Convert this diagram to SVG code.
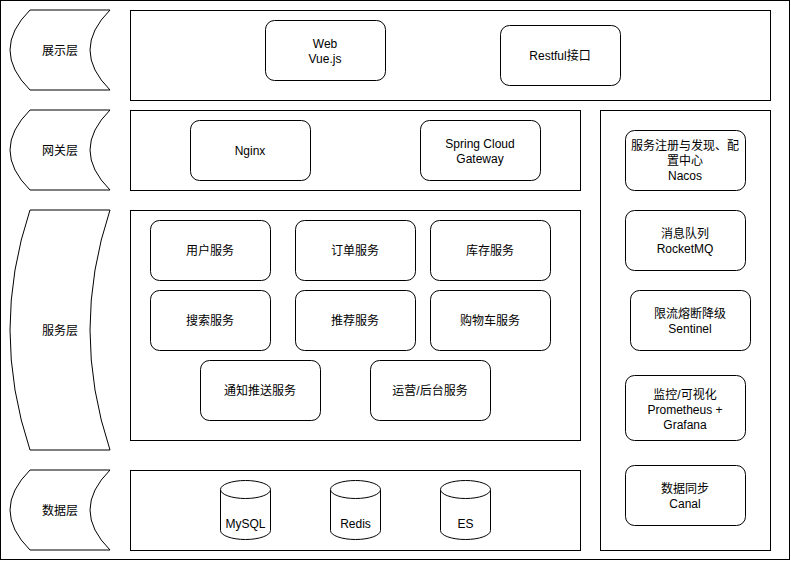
<svg xmlns="http://www.w3.org/2000/svg" width="791" height="561" viewBox="0 0 791 561">
<style>
.s{fill:#fff;stroke:#000;stroke-width:1}
.t{font-family:"Liberation Sans","Noto Sans CJK SC",sans-serif;font-size:12px;fill:#000;text-anchor:middle;dominant-baseline:central}
</style>
<rect x="0" y="0" width="791" height="561" fill="#fff"/>
<rect class="s" x="0.5" y="0.5" width="789" height="559"/>
<g id="layer-labels">
<g id="lbl-present"><path class="s" d="M30,10 L110,10 Q70,50 110,90 L30,90 Q-10,50 30,10 Z"/><text class="t" x="60" y="51">展示层</text></g>
<g id="lbl-gateway"><path class="s" d="M30,110 L110,110 Q70,150 110,190 L30,190 Q-10,150 30,110 Z"/><text class="t" x="60" y="151">网关层</text></g>
<g id="lbl-service"><path class="s" d="M30,210 L110,210 Q70,330 110,450 L30,450 Q-10,330 30,210 Z"/><text class="t" x="60" y="331">服务层</text></g>
<g id="lbl-data"><path class="s" d="M30,470 L110,470 Q70,510 110,550 L30,550 Q-10,510 30,470 Z"/><text class="t" x="60" y="511">数据层</text></g>
</g>
<g id="containers">
<rect id="c-present" class="s" x="130.5" y="10.5" width="640" height="90"/>
<rect id="c-gateway" class="s" x="130.5" y="110.5" width="450" height="80"/>
<rect id="c-service" class="s" x="130.5" y="210.5" width="450" height="230"/>
<rect id="c-data" class="s" x="130.5" y="470.5" width="450" height="80"/>
<rect id="c-infra" class="s" x="600.5" y="110.5" width="170" height="440"/>
</g>
<g id="web"><rect class="s" x="265.5" y="20.5" width="120" height="60" rx="9"/><text class="t" x="325" y="44">Web</text><text class="t" x="325" y="59">Vue.js</text></g>
<g id="restful"><rect class="s" x="500.5" y="25.5" width="120" height="60" rx="9"/><text class="t" x="560" y="56">Restful接口</text></g>
<g id="nginx"><rect class="s" x="190.5" y="120.5" width="120" height="60" rx="9"/><text class="t" x="250" y="151">Nginx</text></g>
<g id="scg"><rect class="s" x="420.5" y="120.5" width="120" height="60" rx="9"/><text class="t" x="480" y="144">Spring Cloud</text><text class="t" x="480" y="159">Gateway</text></g>
<g id="user"><rect class="s" x="150.5" y="220.5" width="120" height="60" rx="9"/><text class="t" x="210" y="251">用户服务</text></g>
<g id="order"><rect class="s" x="295.5" y="220.5" width="120" height="60" rx="9"/><text class="t" x="355" y="251">订单服务</text></g>
<g id="stock"><rect class="s" x="430.5" y="220.5" width="120" height="60" rx="9"/><text class="t" x="490" y="251">库存服务</text></g>
<g id="search"><rect class="s" x="150.5" y="290.5" width="120" height="60" rx="9"/><text class="t" x="210" y="321">搜索服务</text></g>
<g id="recommend"><rect class="s" x="295.5" y="290.5" width="120" height="60" rx="9"/><text class="t" x="355" y="321">推荐服务</text></g>
<g id="cart"><rect class="s" x="430.5" y="290.5" width="120" height="60" rx="9"/><text class="t" x="490" y="321">购物车服务</text></g>
<g id="notify"><rect class="s" x="200.5" y="360.5" width="120" height="60" rx="9"/><text class="t" x="260" y="391">通知推送服务</text></g>
<g id="ops"><rect class="s" x="370.5" y="360.5" width="120" height="60" rx="9"/><text class="t" x="430" y="391">运营/后台服务</text></g>
<g id="mysql"><path class="s" d="M220.5,489.5 A25,9 0 0 1 270.5,489.5 L270.5,530.5 A25,9 0 0 1 220.5,530.5 Z"/><path class="s" fill="none" d="M220.5,489.5 A25,9 0 0 0 270.5,489.5"/><text class="t" x="245.5" y="524">MySQL</text></g>
<g id="redis"><path class="s" d="M330.5,489.5 A25,9 0 0 1 380.5,489.5 L380.5,530.5 A25,9 0 0 1 330.5,530.5 Z"/><path class="s" fill="none" d="M330.5,489.5 A25,9 0 0 0 380.5,489.5"/><text class="t" x="355.5" y="524">Redis</text></g>
<g id="es"><path class="s" d="M440.5,489.5 A25,9 0 0 1 490.5,489.5 L490.5,530.5 A25,9 0 0 1 440.5,530.5 Z"/><path class="s" fill="none" d="M440.5,489.5 A25,9 0 0 0 490.5,489.5"/><text class="t" x="465.5" y="524">ES</text></g>
<g id="nacos"><rect class="s" x="625.5" y="130.5" width="120" height="60" rx="9"/><text class="t" x="685" y="146">服务注册与发现、配</text><text class="t" x="685" y="161">置中心</text><text class="t" x="685" y="176">Nacos</text></g>
<g id="mq"><rect class="s" x="625.5" y="210.5" width="120" height="60" rx="9"/><text class="t" x="685" y="234">消息队列</text><text class="t" x="685" y="249">RocketMQ</text></g>
<g id="sentinel"><rect class="s" x="630.5" y="290.5" width="120" height="60" rx="9"/><text class="t" x="690" y="314">限流熔断降级</text><text class="t" x="690" y="329">Sentinel</text></g>
<g id="prom"><rect class="s" x="625.5" y="375.5" width="120" height="65" rx="9"/><text class="t" x="685" y="395">监控/可视化</text><text class="t" x="685" y="410">Prometheus +</text><text class="t" x="685" y="425">Grafana</text></g>
<g id="canal"><rect class="s" x="625.5" y="465.5" width="120" height="60" rx="9"/><text class="t" x="685" y="489">数据同步</text><text class="t" x="685" y="504">Canal</text></g>
<g id="connectors"></g>
</svg>
